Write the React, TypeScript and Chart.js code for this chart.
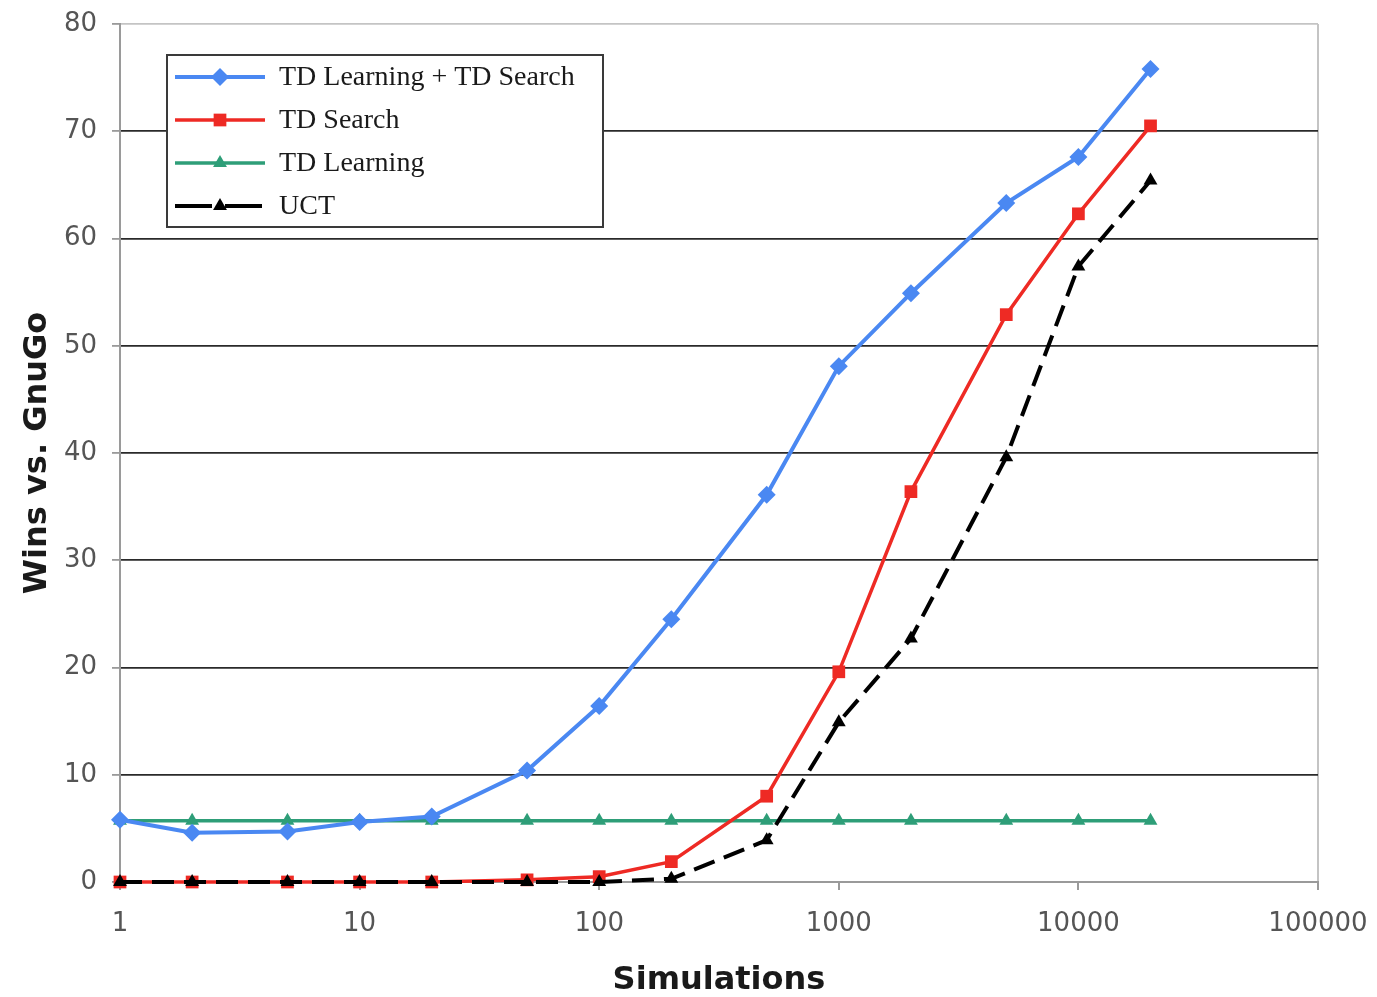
import React, { useEffect, useRef } from "react";
import { Chart, registerables } from "chart.js";

Chart.register(...registerables);

const simulations = [1, 2, 5, 10, 20, 50, 100, 200, 500, 1000, 2000, 5000, 10000, 20000];
const tdLearningTdSearch = [5.8, 4.6, 4.7, 5.6, 6.1, 10.4, 16.4, 24.5, 36.1, 48.1, 54.9, 63.3, 67.6, 75.8];
const tdSearch = [0, 0, 0, 0, 0, 0.2, 0.5, 1.9, 8.0, 19.6, 36.4, 52.9, 62.3, 70.5];
const tdLearning = [5.7, 5.7, 5.7, 5.7, 5.7, 5.7, 5.7, 5.7, 5.7, 5.7, 5.7, 5.7, 5.7, 5.7];
const uct = [0, 0, 0, 0, 0, 0, 0, 0.3, 3.9, 14.9, 22.7, 39.6, 57.4, 65.4];
const xTickValues = [1, 10, 100, 1000, 10000, 100000];
const seriesLabels = ["TD Learning + TD Search", "TD Search", "TD Learning", "UCT"];
const xTitle = "Simulations";
const yTitle = "Wins vs. GnuGo";

const AXIS_GREY = "#9a9a9a";
const FRAME_GREY = "#c4c4c4";
const SANS = "'DejaVu Sans', Verdana, sans-serif";

function drawMarker(ctx: CanvasRenderingContext2D, style: string, x: number, y: number, r: number, color: string) {
  ctx.save();
  ctx.fillStyle = color;
  ctx.beginPath();
  if (style === "rectRot") {
    ctx.moveTo(x - r, y);
    ctx.lineTo(x, y - r);
    ctx.lineTo(x + r, y);
    ctx.lineTo(x, y + r);
  } else if (style === "rect") {
    const s = Math.SQRT1_2 * r;
    ctx.rect(x - s, y - s, 2 * s, 2 * s);
  } else {
    const a = (Math.PI * 2) / 3;
    ctx.moveTo(x, y - r);
    ctx.lineTo(x + Math.sin(a) * r, y - Math.cos(a) * r);
    ctx.lineTo(x - Math.sin(a) * r, y - Math.cos(a) * r);
  }
  ctx.closePath();
  ctx.fill();
  ctx.restore();
}

const boxLegend = {
  id: "boxLegend",
  afterDatasetsDraw(chart: any) {
    const { ctx, chartArea } = chart;
    const left = chartArea.left + 47;
    const top = chartArea.top + 31;
    const w = 436;
    const h = 172;
    ctx.save();
    ctx.fillStyle = "#ffffff";
    ctx.fillRect(left, top, w, h);
    ctx.strokeStyle = "#3a3a3a";
    ctx.lineWidth = 2;
    ctx.strokeRect(left, top, w, h);
    chart.data.datasets.forEach((ds: any, i: number) => {
      const y = top + 22 + i * 43;
      ctx.save();
      ctx.strokeStyle = ds.borderColor;
      ctx.lineWidth = ds.borderWidth;
      ctx.beginPath();
      if (ds.borderDash) {
        ctx.moveTo(left + 8, y);
        ctx.lineTo(left + 45, y);
        ctx.moveTo(left + 58, y);
        ctx.lineTo(left + 95, y);
      } else {
        ctx.moveTo(left + 8, y);
        ctx.lineTo(left + 98, y);
      }
      ctx.stroke();
      ctx.restore();
      drawMarker(ctx, ds.pointStyle, left + 53, y, ds.pointRadius, ds.pointBackgroundColor);
      ctx.fillStyle = "#1a1a1a";
      ctx.font = "28px 'Liberation Serif', 'DejaVu Serif', serif";
      ctx.textBaseline = "middle";
      ctx.textAlign = "left";
      ctx.fillText(ds.label, left + 112, y + 1);
    });
    ctx.restore();
  },
};

function toPoints(values: number[]) {
  return simulations.map((x, i) => ({ x, y: values[i] }));
}

export default function App() {
  const canvasRef = useRef<HTMLCanvasElement | null>(null);

  useEffect(() => {
    if (!canvasRef.current) return;
    const chart = new Chart(canvasRef.current, {
      type: "line",
      data: {
        datasets: [
          {
            label: seriesLabels[0],
            data: toPoints(tdLearningTdSearch),
            borderColor: "#4a88f2",
            backgroundColor: "#4a88f2",
            pointBackgroundColor: "#4a88f2",
            pointBorderWidth: 0,
            borderWidth: 4,
            pointStyle: "rectRot",
            pointRadius: 9,
            clip: false,
            order: 1,
          },
          {
            label: seriesLabels[1],
            data: toPoints(tdSearch),
            borderColor: "#ee2a24",
            backgroundColor: "#ee2a24",
            pointBackgroundColor: "#ee2a24",
            pointBorderWidth: 0,
            borderWidth: 3.5,
            pointStyle: "rect",
            pointRadius: 9,
            clip: false,
            order: 2,
          },
          {
            label: seriesLabels[2],
            data: toPoints(tdLearning),
            borderColor: "#2e9e78",
            backgroundColor: "#2e9e78",
            pointBackgroundColor: "#2e9e78",
            pointBorderWidth: 0,
            borderWidth: 3.5,
            pointStyle: "triangle",
            pointRadius: 8,
            clip: false,
            order: 3,
          },
          {
            label: seriesLabels[3],
            data: toPoints(uct),
            borderColor: "#000000",
            backgroundColor: "#000000",
            pointBackgroundColor: "#000000",
            pointBorderWidth: 0,
            borderWidth: 4,
            borderDash: [22, 10],
            pointStyle: "triangle",
            pointRadius: 8,
            clip: false,
            order: 0,
          },
        ] as any,
      },
      options: {
        animation: false,
        responsive: false,
        maintainAspectRatio: false,
        layout: { padding: { top: 24, right: 59, left: 0, bottom: 0 } },
        plugins: {
          legend: { display: false },
          tooltip: { enabled: false },
        },
        elements: { line: { tension: 0 } },
        scales: {
          x: {
            type: "logarithmic",
            min: 1,
            max: 100000,
            afterBuildTicks: (scale: any) => {
              scale.ticks = xTickValues.map((v) => ({ value: v }));
            },
            afterFit: (scale: any) => {
              scale.height = 115;
              scale.paddingLeft = 0;
              scale.paddingRight = 0;
            },
            ticks: {
              autoSkip: false,
              maxRotation: 0,
              padding: 19,
              color: "#555555",
              font: { family: SANS, size: 26 },
              callback: (v: any) => String(v),
            },
            grid: {
              drawOnChartArea: true,
              drawTicks: true,
              tickLength: 8,
              lineWidth: 2,
              color: (c: any) => (c.tick && c.tick.value === 100000 ? FRAME_GREY : "rgba(0,0,0,0)"),
              tickColor: AXIS_GREY,
            },
            border: { display: true, color: AXIS_GREY, width: 2 },
            title: {
              display: true,
              text: xTitle,
              color: "#1a1a1a",
              font: { family: SANS, size: 32, weight: "bold", lineHeight: 1 },
              padding: { top: 0, bottom: 0 },
            },
          },
          y: {
            type: "linear",
            min: 0,
            max: 80,
            afterFit: (scale: any) => {
              scale.width = 120;
              scale.paddingTop = 0;
              scale.paddingBottom = 0;
            },
            ticks: {
              stepSize: 10,
              padding: 15,
              color: "#555555",
              font: { family: SANS, size: 26 },
            },
            grid: {
              drawTicks: true,
              tickLength: 8,
              lineWidth: 1.8,
              color: (c: any) =>
                c.tick && (c.tick.value === 0 || c.tick.value === 80) ? FRAME_GREY : "#2a2a2a",
              tickColor: AXIS_GREY,
            },
            border: { display: true, color: AXIS_GREY, width: 2 },
            title: {
              display: true,
              text: yTitle,
              color: "#1a1a1a",
              font: { family: SANS, size: 32, weight: "bold", lineHeight: 1 },
              padding: { top: 22, bottom: 0 },
            },
          },
        },
      } as any,
      plugins: [boxLegend],
    });
    return () => chart.destroy();
  }, []);

  return (
    <div style={{ position: "absolute", left: 0, top: 0, width: 1377, height: 997, background: "#ffffff" }}>
      <canvas ref={canvasRef} width={1377} height={997} style={{ display: "block", width: 1377, height: 997 }} />
    </div>
  );
}
